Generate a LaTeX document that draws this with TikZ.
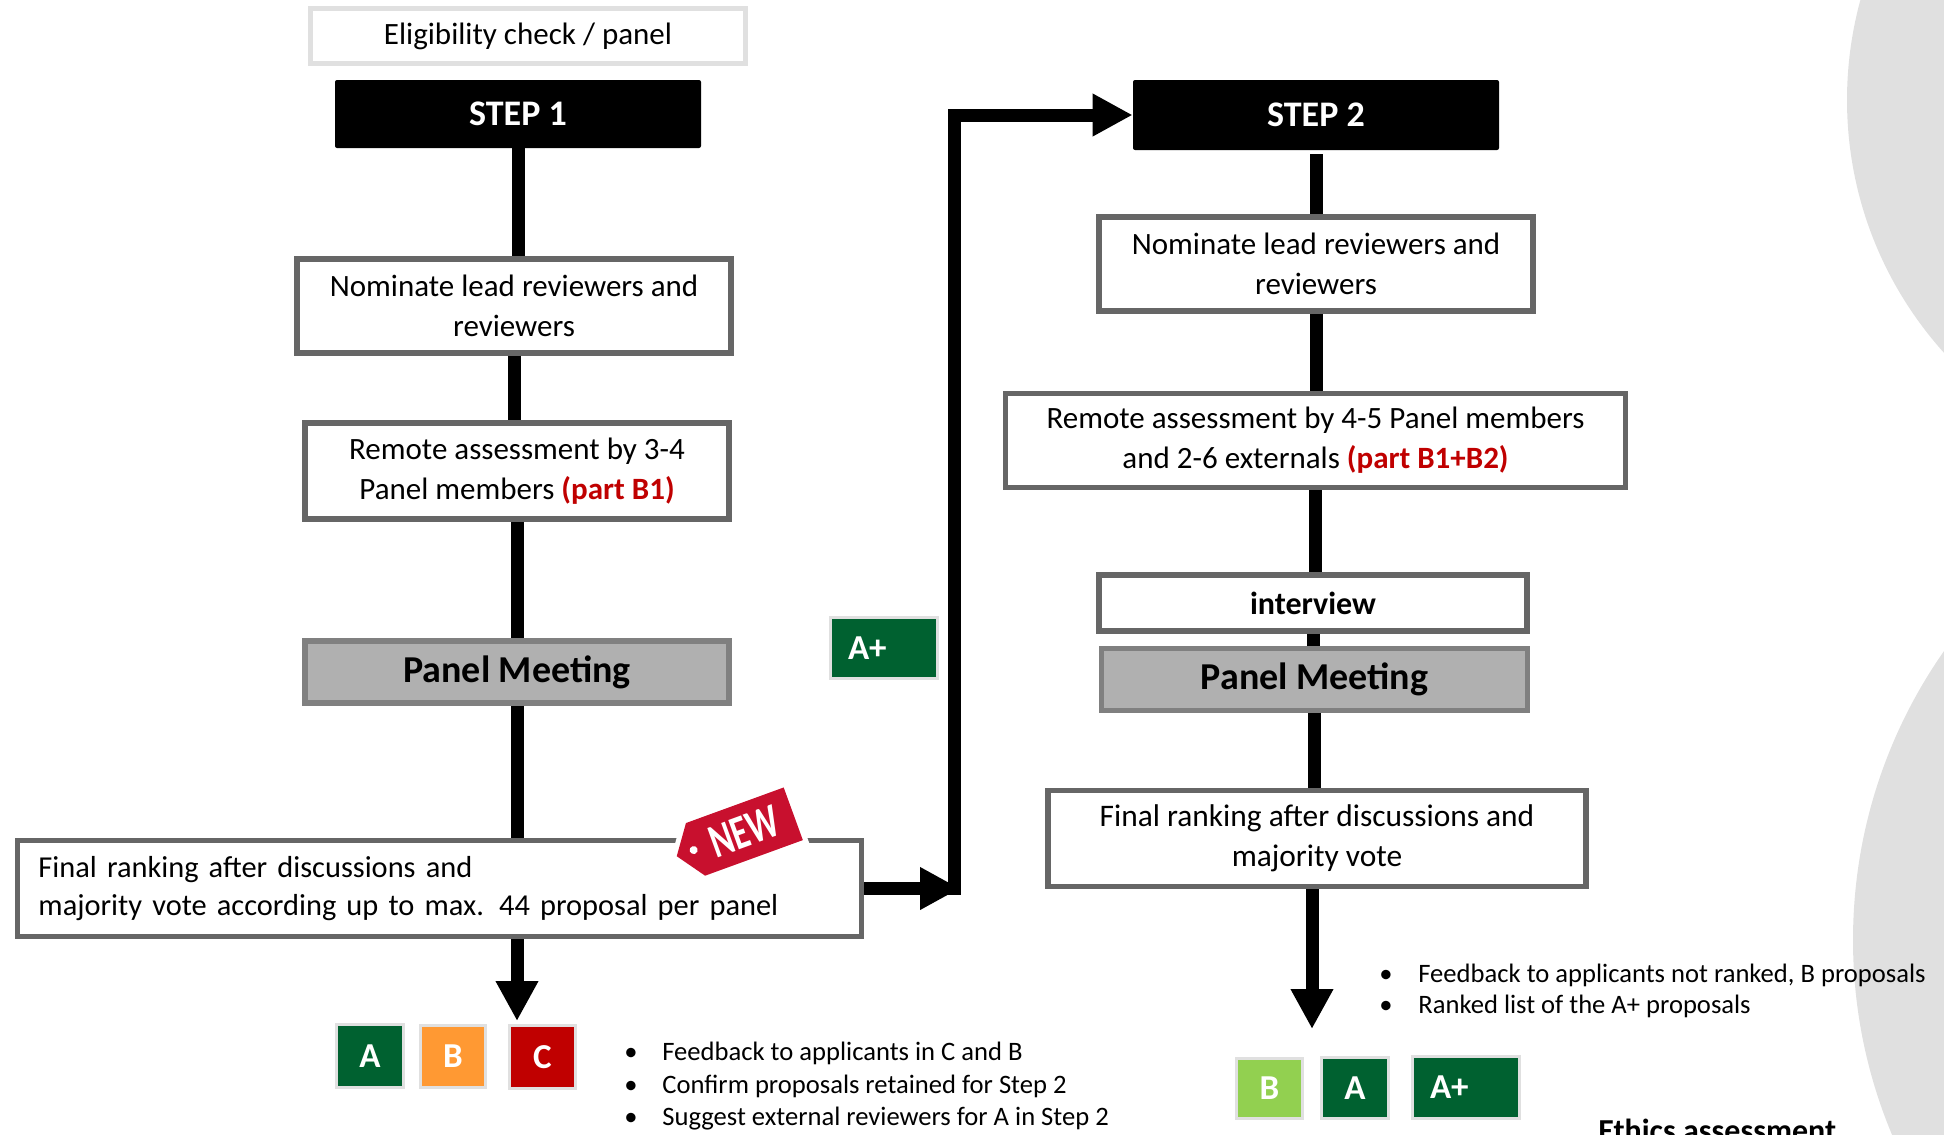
\documentclass[tikz,border=0pt]{standalone}
\usepackage{fontspec}
\setmainfont{Carlito}
\usetikzlibrary{positioning,arrows.meta}

\definecolor{boxgray}{RGB}{102,102,102}
\definecolor{meetfill}{RGB}{176,176,176}
\definecolor{meetline}{RGB}{128,128,128}
\definecolor{partred}{RGB}{192,0,0}
\definecolor{gradeA}{RGB}{0,97,48}
\definecolor{gradeB}{RGB}{255,153,51}
\definecolor{gradeC}{RGB}{192,0,0}
\definecolor{gradeBl}{RGB}{146,208,80}
\definecolor{tagred}{RGB}{200,16,46}
\definecolor{bggray}{RGB}{224,224,224}

\begin{document}
\begin{tikzpicture}[x=0.5pt,y=-0.5pt,
		stepbox/.style={fill=black, rounded corners=1pt, text=white, inner sep=0pt, font=\fontsize{18}{22}\selectfont\bfseries},
		taskbox/.style={draw=boxgray, line width=2.75pt, fill=white, align=center, inner sep=0pt, font=\fontsize{15.5}{20}\selectfont},
		meetbox/.style={draw=meetline, line width=2.75pt, fill=meetfill, inner sep=0pt, font=\fontsize{19}{22}\selectfont\bfseries},
		gradebox/.style={draw=bggray, line width=1.5pt, text=white, inner sep=0pt, font=\fontsize{17.5}{20}\selectfont\bfseries},
		conn/.style={line width=6.5pt},
		arrow/.style={line width=6.5pt, -{Triangle[length=20pt,width=20pt]}},
		bullets/.style={align=left, inner sep=0pt, font=\fontsize{13.3}{16.25}\selectfont}]
	
	\useasboundingbox (0,0) rectangle (1944,1135);
	
	% grey discs on the right
	\fill[bggray] (2225,100) circle[radius=189pt];
	\fill[bggray] (2357,940) circle[radius=252pt];
	
	\begin{scope}
		\node[taskbox, draw=bggray, line width=2.5pt, minimum width=217.5pt, minimum height=27.5pt] (elig) at (528,36) {Eligibility check / panel};
		\node[stepbox, minimum width=183pt, minimum height=34pt] (step1) at (518,114) {STEP 1};
		\node[taskbox, minimum width=217pt, minimum height=47pt] (nom1) at (514,306) {Nominate lead reviewers and\\reviewers};
		\node[taskbox, minimum width=212pt, minimum height=48pt] (rem1) at (517,471) {Remote assessment by 3-4\\Panel members \textcolor{partred}{\bfseries(part B1)}};
		\node[meetbox, minimum width=212pt, minimum height=31pt] (pm1) at (517,672) {Panel Meeting};
		\node[taskbox, align=left, text width=401pt, inner xsep=10.5pt, minimum height=48pt, font=\fontsize{15.2}{19}\selectfont] (fin1) at (439.5,888.5) {Final ranking after discussions and\\majority vote according up to max. 44 proposal per panel};
		
		\draw[conn] (step1.south) -- (step1.south |- nom1.north);
		\draw[conn] (nom1.south) -- (nom1.south |- rem1.north);
		\draw[conn] (rem1.south) -- (rem1.south |- pm1.north);
		\draw[conn] (pm1.south) -- (pm1.south |- fin1.north);
		
		\node[gradebox, fill=gradeA, minimum width=33.5pt, minimum height=31.5pt] (gA1) at (370,1056) {A};
		\node[gradebox, fill=gradeB, minimum width=32.5pt, minimum height=31pt] (gB1) at (453,1056.5) {B};
		\node[gradebox, fill=gradeC, minimum width=33pt, minimum height=31.5pt] (gC1) at (542.5,1057) {C};
		\draw[arrow, shorten >=1.5pt] (pm1.south |- fin1.south) -- (pm1.south |- gC1.north);
		
		\node[bullets, anchor=west] (list1) at (624,1086.5) {\makebox[19pt][l]{\textbullet}Feedback to applicants in C and B\\
			\makebox[19pt][l]{\textbullet}Confirm proposals retained for Step 2\\
			\makebox[19pt][l]{\textbullet}Suggest external reviewers for A in Step 2};
	\end{scope}
	
	% NEW tag on the ranking box
	\begin{scope}[shift={(735,835)}, rotate=20]
		\filldraw[white, line width=5pt] (-62,0) -- (-42,-28) -- (62,-28) -- (62,28) -- (-42,28) -- cycle;
		\fill[tagred] (-62,0) -- (-42,-28) -- (62,-28) -- (62,28) -- (-42,28) -- cycle;
		\fill[white] (-44,0) circle[radius=2pt];
		\node[text=white, inner sep=0pt, rotate=20, font=\fontsize{24}{26}\selectfont\bfseries] (newtag) at (10,0) {\scalebox{0.72}[1]{NEW}};
	\end{scope}
	
	\node[gradebox, fill=gradeA, text width=36pt, align=left, inner xsep=8.75pt, minimum height=30.5pt] (aplus1) at (884,648) {A+};
	\coordinate (join) at (960,888.5);
	\coordinate (bend) at (954.5,895);
	
	\begin{scope}
		\node[stepbox, minimum width=183pt, minimum height=35pt] (step2) at (1316,115) {STEP 2};
		\node[taskbox, minimum width=217pt, minimum height=47pt] (nom2) at (1316,264) {Nominate lead reviewers and\\reviewers};
		\node[taskbox, minimum width=310pt, minimum height=47pt] (rem2) at (1315.5,440.5) {Remote assessment by 4-5 Panel members\\and 2-6 externals \textcolor{partred}{\bfseries(part B1+B2)}};
		\node[taskbox, minimum width=214pt, minimum height=28pt, font=\fontsize{16}{19}\selectfont\bfseries] (intv) at (1313,603) {interview};
		\node[meetbox, minimum width=213pt, minimum height=31pt] (pm2) at (1314.5,679.5) {Panel Meeting};
		\node[taskbox, minimum width=269pt, minimum height=48pt, font=\fontsize{15.7}{20}\selectfont] (fin2) at (1317,838.5) {Final ranking after discussions and\\majority vote};
		
		\draw[arrow] (fin1.east) -- (join);
		\draw[arrow] (bend) |- (step2.west);
		
		\draw[conn, shorten <=2pt] (step2.south) -- (step2.south |- nom2.north);
		\draw[conn] (nom2.south) -- (nom2.south |- rem2.north);
		\draw[conn] (rem2.south) -- (rem2.south |- intv.north);
		\draw[conn] (intv.south) -- (intv.south |- pm2.north);
		\draw[conn] (pm2.south) -- (pm2.south |- fin2.north);
		\coordinate (tip2) at (1312,1029);
		\draw[arrow] (fin2.south -| tip2) -- (tip2);
		
		\node[bullets, anchor=west, font=\fontsize{13.3}{15.5}\selectfont] (list2) at (1379,991) {\makebox[19.5pt][l]{\textbullet}Feedback to applicants not ranked, B proposals\\
			\makebox[19.5pt][l]{\textbullet}Ranked list of the A+ proposals};
		
		\node[gradebox, fill=gradeBl, minimum width=33pt, minimum height=30pt] (gB2) at (1269.5,1088.5) {B};
		\node[gradebox, fill=gradeA, minimum width=33.5pt, minimum height=30.5pt] (gA2) at (1355,1088) {A};
		\node[gradebox, fill=gradeA, text width=36pt, align=left, inner xsep=8.75pt, minimum height=31pt] (aplus2) at (1466,1087.5) {A+};
		
		\node[anchor=base west, inner sep=0pt, font=\fontsize{16}{19}\selectfont\bfseries] (ethics) at (1598,1141) {Ethics assessment};
	\end{scope}
\end{tikzpicture}
\end{document}
